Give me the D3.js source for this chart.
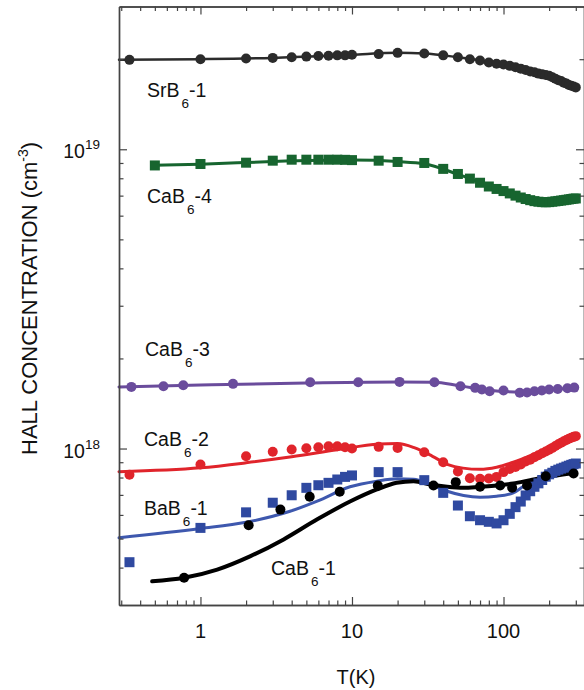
<!DOCTYPE html>
<html>
<head>
<meta charset="utf-8">
<script src="https://cdn.jsdelivr.net/npm/d3@7"></script>
<style>
body { margin: 0; background: #fff; }
svg text { font-family: "Liberation Sans", Arial, Helvetica, sans-serif; fill: #111; }
</style>
</head>
<body>
<svg id="chart" width="584" height="690"></svg>
<script>
const srbT = [0.34, 1, 2, 3, 4, 5, 6, 7, 8, 9, 10, 15, 20, 30, 40, 50, 60, 70, 80, 90, 100, 110, 120, 130, 140, 150, 160, 170, 180, 190, 200, 210, 220, 230, 240, 250, 260, 270, 280, 290, 300];
const srbN = [1.99, 2.0, 2.01, 2.02, 2.03, 2.04, 2.05, 2.055, 2.06, 2.06, 2.07, 2.08, 2.1, 2.09, 2.06, 2.03, 2.0, 1.98, 1.95, 1.93, 1.92, 1.90, 1.88, 1.86, 1.84, 1.82, 1.81, 1.79, 1.78, 1.77, 1.76, 1.74, 1.72, 1.70, 1.69, 1.67, 1.66, 1.64, 1.63, 1.62, 1.61].map(v => v * 1e19);

const cab4T = [0.5, 1, 2, 3, 4, 5, 6, 7, 8, 9, 10, 15, 20, 30, 40, 50, 60, 70, 80, 90, 100, 110, 120, 130, 140, 150, 160, 170, 180, 190, 200, 210, 220, 230, 240, 250, 260, 270, 280, 290, 300];
const cab4N = [8.83, 8.93, 9.02, 9.16, 9.23, 9.23, 9.23, 9.23, 9.23, 9.22, 9.2, 9.16, 9.07, 9.0, 8.6, 8.27, 7.98, 7.73, 7.51, 7.37, 7.25, 7.12, 7.0, 6.9, 6.82, 6.76, 6.71, 6.68, 6.66, 6.65, 6.66, 6.68, 6.7, 6.72, 6.74, 6.76, 6.78, 6.8, 6.82, 6.84, 6.85].map(v => v * 1e18);

const cab3T = [0.35, 0.57, 0.77, 1.64, 5.3, 11, 20.6, 35, 52, 65, 72, 81, 100, 128, 143, 160, 179, 200, 228, 264, 293];
const cab3N = [1.607, 1.614, 1.627, 1.645, 1.665, 1.665, 1.67, 1.665, 1.614, 1.595, 1.574, 1.553, 1.562, 1.535, 1.54, 1.553, 1.562, 1.574, 1.582, 1.59, 1.598].map(v => v * 1e18);

const cab2T = [0.34, 1, 2, 3, 4, 5, 6, 7, 8, 9, 10, 15, 20, 30, 40, 50, 60, 70, 80, 90, 100, 110, 120, 130, 140, 150, 160, 170, 180, 190, 200, 210, 220, 230, 240, 250, 260, 270, 280, 290, 300];
const cab2N = [0.817, 0.884, 0.942, 0.975, 0.992, 1.002, 1.01, 1.018, 1.018, 1.01, 1.0, 1.013, 1.005, 0.972, 0.90, 0.838, 0.796, 0.792, 0.794, 0.804, 0.834, 0.855, 0.868, 0.885, 0.905, 0.918, 0.935, 0.95, 0.964, 0.978, 0.99, 1.005, 1.02, 1.033, 1.045, 1.058, 1.068, 1.078, 1.087, 1.094, 1.1].map(v => v * 1e18);

const bab1T = [0.34, 1, 2, 3, 4, 5, 6, 7, 8, 9, 10, 15, 20, 30, 40, 50, 60, 70, 80, 90, 100, 110, 120, 130, 140, 150, 160, 170, 180, 190, 200, 210, 220, 230, 240, 250, 260, 270, 280, 290, 300];
const bab1N = [0.417, 0.543, 0.612, 0.659, 0.698, 0.739, 0.754, 0.768, 0.788, 0.804, 0.813, 0.834, 0.834, 0.784, 0.711, 0.645, 0.594, 0.576, 0.569, 0.562, 0.576, 0.605, 0.637, 0.665, 0.697, 0.72, 0.745, 0.765, 0.785, 0.805, 0.82, 0.83, 0.842, 0.85, 0.857, 0.863, 0.87, 0.876, 0.882, 0.887, 0.891].map(v => v * 1e18);

const cab1T = [0.78, 2.08, 3.37, 5.26, 8.3, 14.8, 34.5, 48.4, 70, 95, 114, 143, 190, 290];
const cab1N = [0.37, 0.554, 0.625, 0.69, 0.717, 0.752, 0.752, 0.772, 0.745, 0.752, 0.739, 0.752, 0.808, 0.825].map(v => v * 1e18);

// fitted curves
const srbFitT = [0.29, 1, 3, 10, 20, 30, 50, 100, 200, 300];
const srbFitN = [1.99, 2.0, 2.02, 2.07, 2.1, 2.09, 2.03, 1.92, 1.76, 1.61].map(v => v * 1e19);
const cab4FitT = [0.5, 1, 3, 10, 20, 30, 50, 100, 180, 300];
const cab4FitN = [8.85, 8.92, 9.1, 9.2, 9.1, 8.95, 8.25, 7.25, 6.68, 6.85].map(v => v * 1e18);
const cab3FitT = [0.29, 1, 5, 20, 35, 50, 80, 130, 200, 300];
const cab3FitN = [1.607, 1.63, 1.655, 1.668, 1.665, 1.625, 1.565, 1.545, 1.57, 1.598].map(v => v * 1e18);
const cab2FitT = [0.29, 1, 2, 4, 8, 15, 20, 26, 34, 43, 54, 70, 90, 116, 150, 194, 246, 300];
const cab2FitN = [0.837, 0.862, 0.896, 0.938, 0.99, 1.035, 1.04, 1.005, 0.942, 0.884, 0.86, 0.852, 0.866, 0.9, 0.947, 1.005, 1.058, 1.095].map(v => v * 1e18);
const bab1FitT = [0.29, 1, 2, 3.9, 5.9, 9.7, 14.6, 20, 25.5, 33, 42.5, 54.5, 70, 90, 116, 134, 166, 225, 300];
const bab1FitN = [0.503, 0.54, 0.567, 0.617, 0.667, 0.745, 0.778, 0.792, 0.79, 0.758, 0.72, 0.697, 0.688, 0.693, 0.711, 0.745, 0.792, 0.825, 0.846].map(v => v * 1e18);
const cab1FitT = [0.48, 0.78, 1.29, 2.14, 3.54, 5.9, 9.7, 14.6, 19.7, 25.5, 33, 42.5, 54.5, 70, 90, 116, 150, 194, 246, 300];
const cab1FitN = [0.36, 0.37, 0.394, 0.437, 0.497, 0.58, 0.665, 0.73, 0.768, 0.778, 0.758, 0.745, 0.739, 0.745, 0.752, 0.764, 0.784, 0.804, 0.819, 0.83].map(v => v * 1e18);

const names = ["SrB", "CaB", "CaB", "CaB", "BaB", "CaB"];
const suffixes = ["-1", "-4", "-3", "-2", "-1", "-1"];
const xMajor = [1, 10, 100];
const xMinor = [0.3, 0.4, 0.5, 0.6, 0.7, 0.8, 0.9, 2, 3, 4, 5, 6, 7, 8, 9, 20, 30, 40, 50, 60, 70, 80, 90, 200, 300];
const yMajor = [1e18, 1e19];
const yMajorExp = ["18", "19"];
const yMinor = [4e17, 5e17, 6e17, 7e17, 8e17, 9e17, 2e18, 3e18, 4e18, 5e18, 6e18, 7e18, 8e18, 9e18, 2e19];

let series = [
    {T: srbT, N: srbN, fT: srbFitT, fN: srbFitN, color: "#2b2b2b", line: "#2b2b2b", shape: "circle", lw: 2.5, lab: [147, 97]},
    {T: cab4T, N: cab4N, fT: cab4FitT, fN: cab4FitN, color: "#17652f", line: "#17652f", shape: "square", lw: 3, lab: [147, 203]},
    {T: cab3T, N: cab3N, fT: cab3FitT, fN: cab3FitN, color: "#6a4c9c", line: "#6a4c9c", shape: "circle", lw: 3, lab: [145, 356]},
    {T: cab2T, N: cab2N, fT: cab2FitT, fN: cab2FitN, color: "#e0242b", line: "#e0242b", shape: "circle", lw: 3, lab: [144, 446]},
    {T: bab1T, N: bab1N, fT: bab1FitT, fN: bab1FitN, color: "#2f49a0", line: "#3e58ae", shape: "square", lw: 3, lab: [144, 515]},
    {T: cab1T, N: cab1N, fT: cab1FitT, fN: cab1FitN, color: "#000", line: "#000", shape: "circle", lw: 4, lab: [271, 575]},
];

let svg = d3.select("#chart");
let padLeft = 119, padRight = 585, padTop = 6.5, padBottom = 605;

let x = d3.scaleLog().domain([0.29, 345]).range([padLeft, padRight]);
let y = d3.scaleLog().domain([3e17, 3e19]).range([padBottom, padTop]);

let plot = svg.append("g");

let lineGen = d3.line()
    .x(d => x(d[0]))
    .y(d => y(d[1]))
    .curve(d3.curveMonotoneX);

// curves
series.forEach(s => {
    let pts = s.fT.map((t, i) => [t, s.fN[i]]);
    plot.append("path")
        .datum(pts)
        .attr("d", lineGen)
        .attr("fill", "none")
        .attr("stroke", s.line)
        .attr("stroke-width", s.lw)
        .attr("stroke-linecap", "round");
});

// markers
series.forEach(s => {
    let pts = s.T.map((t, i) => [t, s.N[i]]);
    if (s.shape == "circle") {
        plot.append("g").selectAll("circle")
            .data(pts).enter().append("circle")
            .attr("cx", d => x(d[0]))
            .attr("cy", d => y(d[1]))
            .attr("r", 5)
            .attr("fill", s.color);
    } else {
        let a = 10;
        plot.append("g").selectAll("rect")
            .data(pts).enter().append("rect")
            .attr("x", d => x(d[0]) - a / 2)
            .attr("y", d => y(d[1]) - a / 2)
            .attr("width", a)
            .attr("height", a)
            .attr("fill", s.color);
    }
});

// series labels
series.forEach((s, i) => {
    let t = svg.append("text")
        .attr("x", s.lab[0])
        .attr("y", s.lab[1])
        .attr("font-size", 19.5);
    t.append("tspan").text(names[i]);
    t.append("tspan").attr("dx", 2).attr("dy", 11).attr("font-size", 13.5).text("6");
    t.append("tspan").attr("dy", -11).text(suffixes[i]);
});

// axes, ticks pointing inward
let axisCol = "#444";
let styleAxis = g => {
    g.select(".domain").attr("stroke", axisCol).attr("stroke-width", 1.4);
    g.selectAll(".tick line").attr("stroke", axisCol).attr("stroke-width", 1.2);
    g.selectAll(".tick text").remove();
};

svg.append("g").attr("transform", `translate(0,${padBottom})`)
    .call(d3.axisBottom(x).tickValues(xMajor).tickSize(-8).tickSizeOuter(0)).call(styleAxis);
svg.append("g").attr("transform", `translate(0,${padBottom})`)
    .call(d3.axisBottom(x).tickValues(xMinor).tickSize(-4.5).tickSizeOuter(0)).call(styleAxis);
svg.append("g").attr("transform", `translate(0,${padTop})`)
    .call(d3.axisTop(x).tickValues(xMajor).tickSize(-8).tickSizeOuter(0)).call(styleAxis);
svg.append("g").attr("transform", `translate(0,${padTop})`)
    .call(d3.axisTop(x).tickValues(xMinor).tickSize(-4.5).tickSizeOuter(0)).call(styleAxis);
svg.append("g").attr("transform", `translate(${padLeft},0)`)
    .call(d3.axisLeft(y).tickValues(yMajor).tickSize(-8).tickSizeOuter(0)).call(styleAxis);
svg.append("g").attr("transform", `translate(${padLeft},0)`)
    .call(d3.axisLeft(y).tickValues(yMinor).tickSize(-4.5).tickSizeOuter(0)).call(styleAxis);
svg.append("g").attr("transform", `translate(${padRight - 1},0)`)
    .call(d3.axisRight(y).tickValues(yMajor).tickSize(-8).tickSizeOuter(0)).call(styleAxis);
svg.append("g").attr("transform", `translate(${padRight - 1},0)`)
    .call(d3.axisRight(y).tickValues(yMinor).tickSize(-4.5).tickSizeOuter(0)).call(styleAxis);

// tick labels
svg.append("g").selectAll("text")
    .data(xMajor).enter().append("text")
    .attr("x", d => x(d))
    .attr("y", 638)
    .attr("text-anchor", "middle")
    .attr("font-size", 20)
    .text(d => d);

yMajor.forEach((v, i) => {
    let t = svg.append("text")
        .attr("x", 100)
        .attr("y", y(v) + 9)
        .attr("text-anchor", "end")
        .attr("font-size", 19.5)
        .text("10");
    t.append("tspan").attr("dy", -9).attr("font-size", 13.5).text(yMajorExp[i]);
});

// axis titles
svg.append("text")
    .attr("x", 356)
    .attr("y", 684)
    .attr("text-anchor", "middle")
    .attr("font-size", 20)
    .text("T(K)");

let yt = svg.append("text")
    .attr("transform", "translate(37,455) rotate(-90)")
    .attr("font-size", 22)
    .text("HALL CONCENTRATION (cm");
yt.append("tspan").attr("dy", -9).attr("font-size", 14).text("-3");
yt.append("tspan").attr("dy", 9).text(")");
</script>
</body>
</html>
